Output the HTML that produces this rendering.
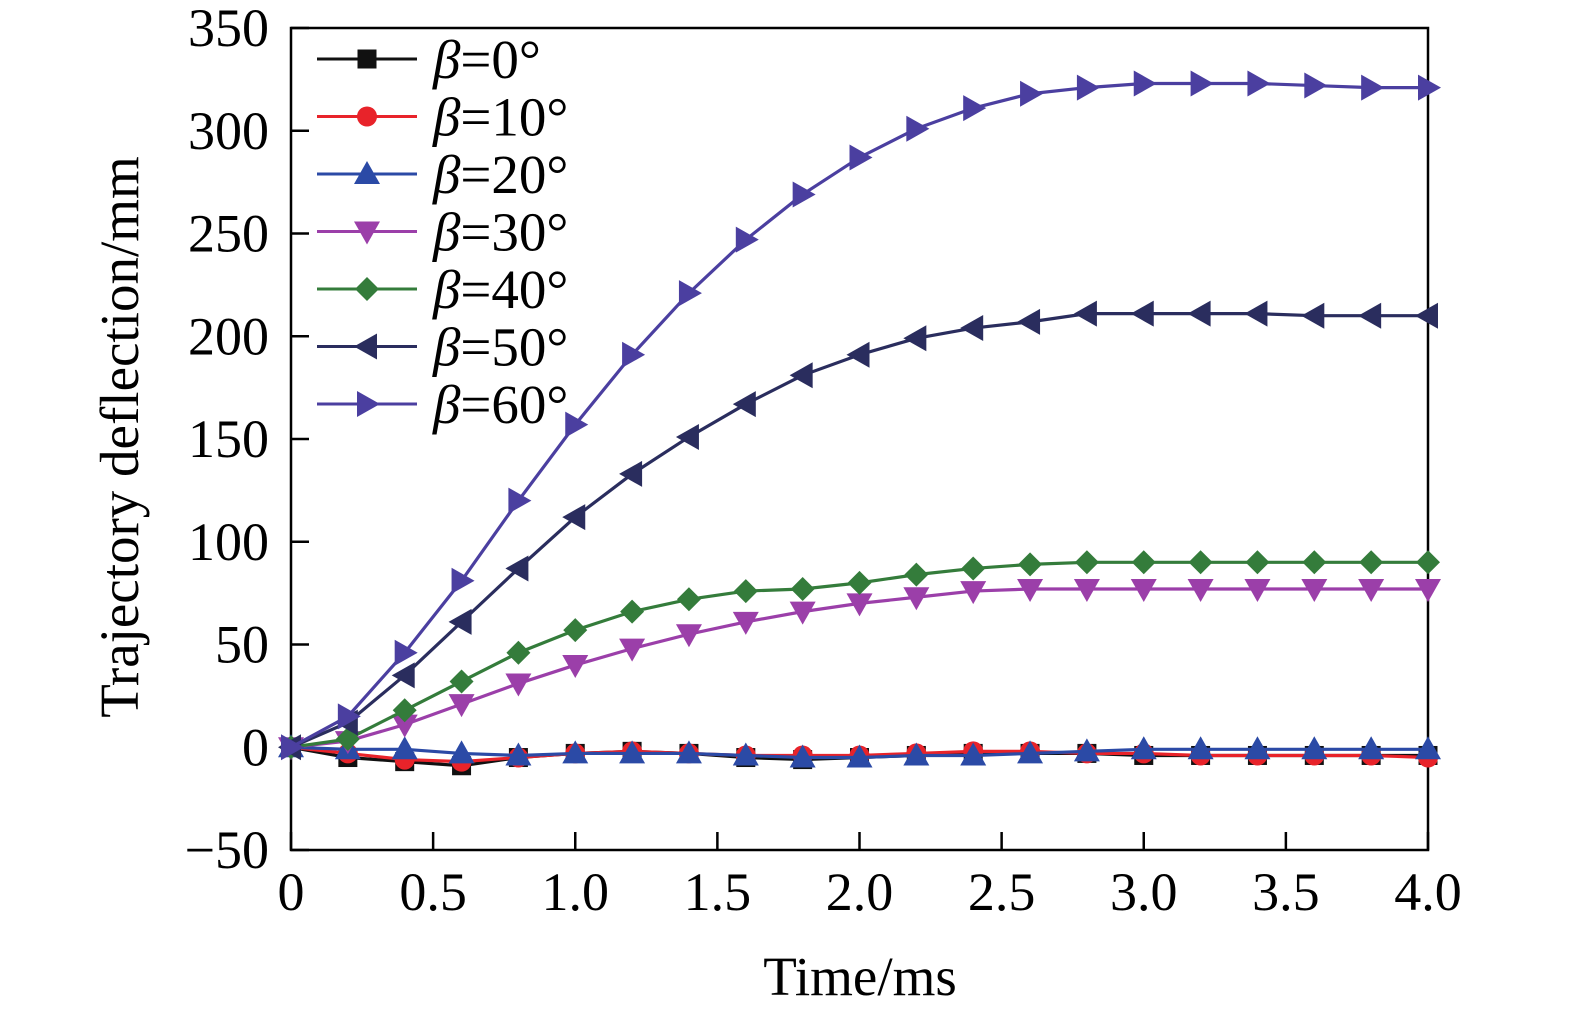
<!DOCTYPE html>
<html><head><meta charset="utf-8"><style>
body{margin:0;background:#fff}
svg{display:block;font-family:"Liberation Serif",serif}
</style></head><body>
<svg id="chart" width="1575" height="1014" viewBox="0 0 1575 1014" xmlns="http://www.w3.org/2000/svg">
<g id="axes"></g><g id="series"></g><g id="legend"></g>
</svg>
<script>
const times=[0,0.2,0.4,0.6,0.8,1.0,1.2,1.4,1.6,1.8,2.0,2.2,2.4,2.6,2.8,3.0,3.2,3.4,3.6,3.8,4.0];
const b0=[0,-5,-7,-9,-5,-3,-2,-3,-5,-6,-5,-4,-3,-3,-3,-4,-4,-4,-4,-4,-4];
const b10=[0,-3,-6,-7,-5,-3,-2,-3,-4,-4,-4,-3,-2,-2,-3,-3,-4,-4,-4,-4,-5];
const b20=[0,-1,-1,-3,-4,-3,-3,-3,-4,-5,-5,-4,-4,-3,-2,-1,-1,-1,-1,-1,-1];
const b30=[0,3,11,21,31,40,48,55,61,66,70,73,76,77,77,77,77,77,77,77,77];
const b40=[0,4,18,32,46,57,66,72,76,77,80,84,87,89,90,90,90,90,90,90,90];
const b50=[0,12,35,61,87,112,133,151,167,181,191,199,204,207,211,211,211,211,210,210,210];
const b60=[0,15,46,81,120,157,191,221,247,269,287,301,311,318,321,323,323,323,322,321,321];
const xTicks=[0,0.5,1.0,1.5,2.0,2.5,3.0,3.5,4.0];
const xTickLabels=["0","0.5","1.0","1.5","2.0","2.5","3.0","3.5","4.0"];
const yTicks=[-50,0,50,100,150,200,250,300,350];
const yTickLabels=["\u221250","0","50","100","150","200","250","300","350"];
const seriesNames=["β=0°","β=10°","β=20°","β=30°","β=40°","β=50°","β=60°"];

const NS="http://www.w3.org/2000/svg";
const L=291,R=1428,T=28,B=850;
const X=v=>L+(v-0)/(4-0)*(R-L);
const Y=v=>B-(v+50)/400*(B-T);
function mk(tag,attrs,parent){const e=document.createElementNS(NS,tag);for(const k in attrs)e.setAttribute(k,attrs[k]);parent.appendChild(e);return e;}
const axes=document.getElementById('axes'),sg=document.getElementById('series'),lg=document.getElementById('legend');
let f=mk('rect',{x:L,y:T,width:R-L,height:B-T,fill:'none',stroke:'#000','stroke-width':2.5},axes);

xTicks.forEach((t,i)=>{
 let l=mk('line',{x1:X(t),x2:X(t),y1:B,y2:B-18,stroke:'#000','stroke-width':2.5},axes);
 
 let tx=mk('text',{x:X(t),y:B+60,'text-anchor':'middle','font-size':54},axes);tx.textContent=xTickLabels[i];
 
});
yTicks.forEach((t,i)=>{
 let l=mk('line',{x1:L,x2:L+18,y1:Y(t),y2:Y(t),stroke:'#000','stroke-width':2.5},axes);
 
 let tx=mk('text',{x:L-22,y:Y(t)+18,'text-anchor':'end','font-size':54},axes);tx.textContent=yTickLabels[i];
 
});
let xt=mk('text',{x:860,y:995,'text-anchor':'middle','font-size':55},axes);xt.textContent='Time/ms';

let yt=mk('text',{x:0,y:0,'text-anchor':'middle','font-size':55,transform:'translate(138,437) rotate(-90)'},axes);yt.textContent='Trajectory deflection/mm';


const colors=['#111','#e8232a','#2b4aa6','#9b3fa9','#347c3b','#2a2d5e','#4b3fa0'];
const shapes=['square','circle','up','down','diamond','left','right'];
const data=[b0,b10,b20,b30,b40,b50,b60];
function marker(s,cx,cy,c,p){
 const r=12;let pts;
 if(s==='square')return mk('rect',{x:cx-9.5,y:cy-9.5,width:19,height:19,fill:c},p);
 if(s==='circle')return mk('circle',{cx,cy,r:10,fill:c},p);
 if(s==='up')pts=[[cx,cy-r-1],[cx+r+1,cy+r-2],[cx-r-1,cy+r-2]];
 if(s==='down')pts=[[cx,cy+r+1],[cx+r+1,cy-r+2],[cx-r-1,cy-r+2]];
 if(s==='diamond')pts=[[cx,cy-r],[cx+r,cy],[cx,cy+r],[cx-r,cy]];
 if(s==='left')pts=[[cx-r-1,cy],[cx+r-2,cy-r-1],[cx+r-2,cy+r+1]];
 if(s==='right')pts=[[cx+r+1,cy],[cx-r+2,cy-r-1],[cx-r+2,cy+r+1]];
 return mk('polygon',{points:pts.map(q=>q.join(',')).join(' '),fill:c},p);
}
data.forEach((d,si)=>{
 const g=mk('g',{},sg);
 
 let pl=mk('polyline',{points:d.map((v,i)=>X(times[i])+','+Y(v)).join(' '),fill:'none',stroke:colors[si],'stroke-width':3.2},g);
 
 d.forEach((v,i)=>{let m=marker(shapes[si],X(times[i]),Y(v),colors[si],g);
  });
 const ly=59+si*57.5;
 const lgi=mk('g',{},lg);
 
 mk('line',{x1:317,x2:417,y1:ly,y2:ly,stroke:colors[si],'stroke-width':3},lgi);
 marker(shapes[si],367,ly,colors[si],lgi);
 let t=mk('text',{x:433,y:ly+19,'font-size':55},lgi);
 const b=mk('tspan',{'font-style':'italic'},t);b.textContent='β';
 const r2=mk('tspan',{},t);r2.textContent=seriesNames[si].slice(1);
});
</script>
</body></html>
